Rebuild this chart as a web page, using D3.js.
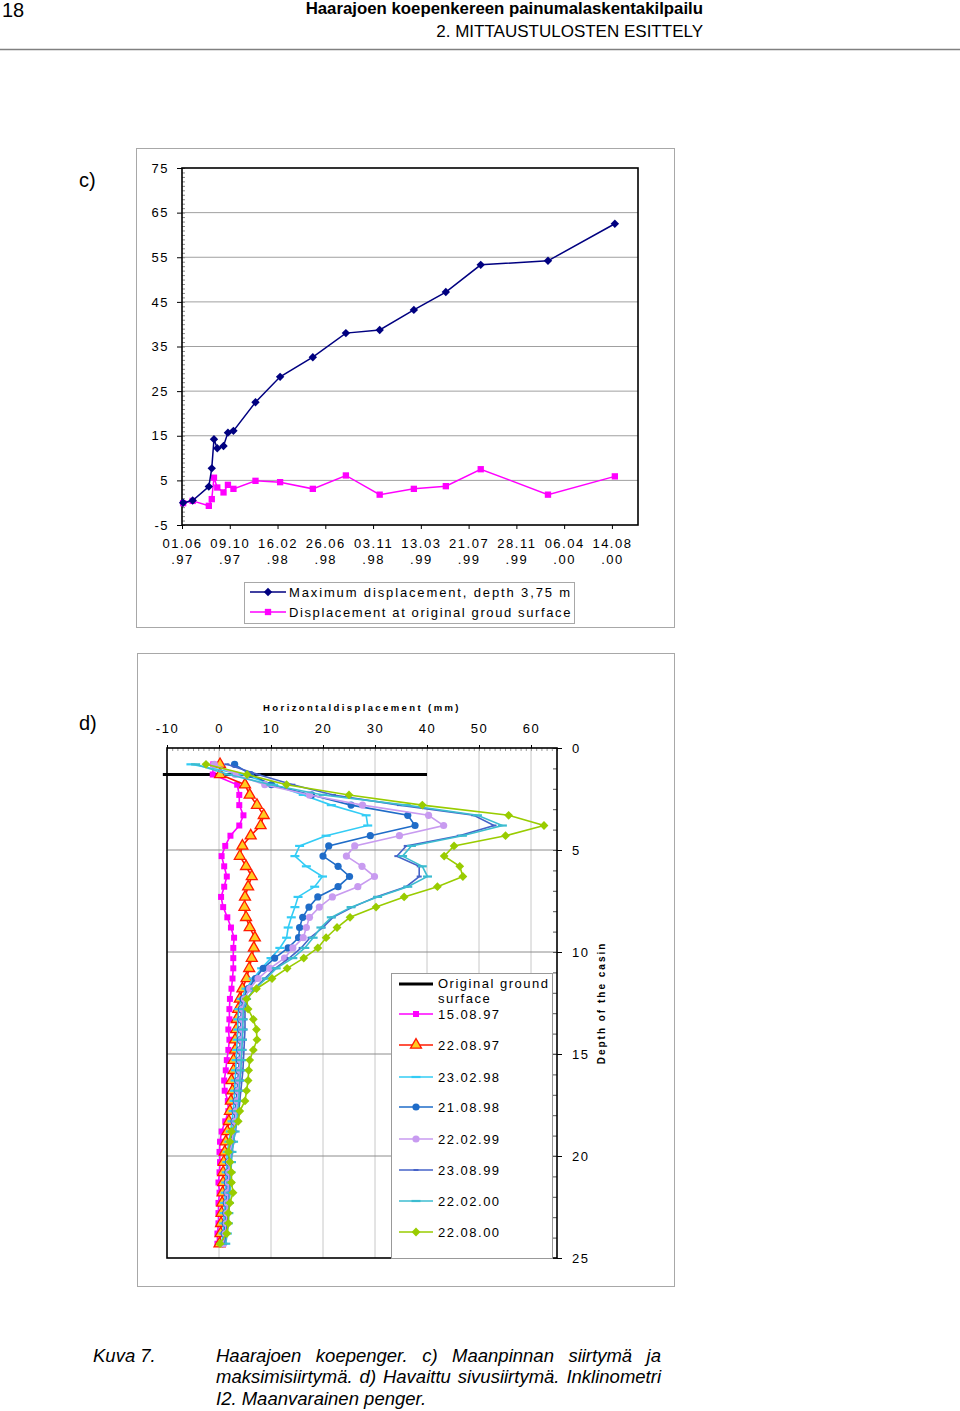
<!DOCTYPE html>
<html><head><meta charset="utf-8">
<script src="https://cdn.jsdelivr.net/npm/d3@7/dist/d3.min.js"></script>
<style>
body{margin:0;background:#fff;}
text{font-family:"Liberation Sans",Arial,sans-serif;fill:#000;}
</style></head><body>
<svg id="page" width="960" height="1411"></svg>
<script>
// ---------------- DATA: chart c ----------------
const cDates = ["04.06.97","30.06.97","13.08.97","21.08.97","27.08.97","05.09.97","22.09.97","04.10.97","19.10.97","18.12.97","23.02.98","23.05.98","21.08.98","21.11.98","22.02.99","20.05.99","23.08.99","22.02.00","22.08.00"];
const maxDisp  = [0.0, 0.5, 3.6, 7.7, 14.2, 12.2, 12.7, 15.7, 16.1, 22.5, 28.2, 32.6, 38.0, 38.7, 43.2, 47.2, 53.3, 54.2, 62.5];
const surfDisp = [-0.1, 0.4, -0.7, 0.8, 5.6, 3.4, 2.3, 4.0, 3.1, 4.9, 4.6, 3.1, 6.1, 1.8, 3.1, 3.7, 7.5, 1.8, 5.9];
const cTickDates = ["01.06.97","09.10.97","16.02.98","26.06.98","03.11.98","13.03.99","21.07.99","28.11.99","06.04.00","14.08.00"];
const cXDomain = ["01.06.97","24.10.00"];
const cYTicks = [-5,5,15,25,35,45,55,65,75];
const cLegend = ["Maximum displacement, depth 3,75 m","Displacement at original groud surface"];

// ---------------- DATA: chart d ----------------
const depths = [0.8,1.3,1.8,2.3,2.8,3.3,3.8,4.3,4.8,5.3,5.8,6.3,6.8,7.3,7.8,8.3,8.8,9.3,9.8,10.3,10.8,11.3,11.8,12.3,12.8,13.3,13.8,14.3,14.8,15.3,15.8,16.3,16.8,17.3,17.8,18.3,18.8,19.3,19.8,20.3,20.8,21.3,21.8,22.3,22.8,23.3,23.8,24.3];
const d150897 = [-1.1,-1.2,3.5,3.9,3.9,4.7,3.9,2.2,1.2,0.5,1.0,1.5,1.0,0.4,0.8,1.6,2.3,2.9,2.75,2.75,2.75,2.6,2.4,2.1,2.0,2.0,1.8,2.0,1.8,1.5,1.3,1.0,1.1,1.7,1.8,1.2,0.5,0.2,0.1,0.2,0.1,-0.1,0.1,-0.1,-0.1,-0.1,-0.3,-0.3];
const d220897 = [0.2,0.2,5.0,5.9,7.3,8.6,8.0,6.1,4.5,4.0,5.2,6.3,5.6,5.0,4.9,5.2,5.9,6.9,6.7,6.3,5.8,5.3,4.5,4.0,3.7,3.4,3.3,3.1,3.1,2.8,2.8,2.4,2.6,2.3,2.1,1.9,1.6,1.3,1.1,0.9,0.8,0.8,0.7,0.6,0.5,0.4,0.3,0.1];
const d230298 = [-5.4,4.6,10.5,16.2,21.6,28.3,28.6,20.6,15.5,14.6,16.8,19.9,18.4,15.2,14.6,13.9,13.3,13.0,11.7,10.0,8.2,6.6,5.2,4.3,3.8,3.6,3.6,3.5,3.4,3.3,3.2,3.1,3.0,2.9,2.7,2.5,2.2,1.9,1.6,1.5,1.4,1.3,1.2,1.1,1.0,0.9,0.8,0.5];
const d210898 = [3.0,6.1,10.1,17.8,25.4,36.3,37.7,29.1,21.1,20.0,22.9,25.1,22.9,19.0,17.3,16.1,15.5,15.3,13.3,10.7,8.5,7.0,5.6,4.6,4.3,4.2,4.2,4.1,4.0,3.9,3.8,3.6,3.5,3.3,3.1,2.9,2.6,2.3,2.0,1.8,1.7,1.6,1.5,1.4,1.3,1.2,1.0,0.7];
const d220299 = [-0.9,3.1,8.8,17.4,27.6,40.3,43.2,34.7,26.1,24.5,27.5,29.9,26.7,21.8,19.3,17.4,16.8,16.2,14.2,12.6,9.8,7.5,5.9,4.9,4.5,4.4,4.4,4.3,4.2,4.1,4.0,3.8,3.7,3.5,3.3,3.1,2.8,2.5,2.2,2.0,1.9,1.8,1.7,1.6,1.5,1.4,1.2,0.9];
const d230899 = [1.5,7.5,14.2,22.0,34.7,49.0,52.9,46.2,36.0,34.2,38.5,38.5,36.0,30.2,25.7,21.9,20.0,17.5,15.8,13.5,10.8,8.8,6.8,5.5,5.0,5.0,5.0,4.9,4.8,4.7,4.6,4.4,4.2,4.0,3.8,3.5,3.1,2.8,2.5,2.3,2.2,2.1,2.0,1.9,1.8,1.6,1.4,1.1];
const d220200 = [-4.5,1.8,10.0,20.0,36.0,49.7,54.5,46.8,37.0,35.3,39.1,40.1,36.3,30.5,25.4,21.6,19.6,18.1,16.5,14.2,11.0,9.1,6.9,5.3,4.7,4.6,4.6,4.5,4.4,4.3,4.2,4.0,3.9,3.8,3.6,3.4,3.1,2.8,2.5,2.4,2.3,2.2,2.1,2.0,1.9,1.8,1.6,1.3];
const d220800 = [-2.5,5.4,13.0,25.0,39.1,55.7,62.5,55.1,45.2,43.3,46.3,46.9,42.0,35.6,30.2,25.2,22.7,20.6,19.0,16.3,13.1,10.2,7.2,5.3,5.6,6.6,7.2,7.3,6.6,5.9,5.7,5.6,5.3,5.0,4.0,3.7,2.4,2.1,1.8,2.1,2.4,2.4,2.7,2.1,1.8,1.8,1.5,0.2];
const dSeriesNames = ["15.08.97","22.08.97","23.02.98","21.08.98","22.02.99","23.08.99","22.02.00","22.08.00"];
const dSeriesValues = [d150897,d220897,d230298,d210898,d220299,d230899,d220200,d220800];
const groundX = [-10.8, 40];
const groundDepth = [1.3, 1.3];
const groundName = ["Original ground", "surface"];
const dXTicks = [-10,0,10,20,30,40,50,60];
const dYTicks = [0,5,10,15,20,25];
const dXDomain = [-10,65];
const dYDomain = [0,25];

// ---------------- STYLES ----------------
const dStyles = [
  {color:"#FF00FF", marker:"square"},
  {color:"#FF1A00", marker:"triangle"},
  {color:"#33CCF5", marker:"dash"},
  {color:"#1F6CC8", marker:"circle"},
  {color:"#C89BF0", marker:"circle"},
  {color:"#4663C8", marker:"smalldash"},
  {color:"#3CBCD0", marker:"dash"},
  {color:"#99CC00", marker:"diamond"}
];

const svg = d3.select("#page");
const parse = d3.timeParse("%d.%m.%y");
const fmt = d => String(d); // plain hyphen minus
const diamondPath = r => `M0,${-r}L${r},0L0,${r}L${-r},0Z`;

function spacedText(g, x, y, txt, size, ls, anchor, weight){
  const t = g.append("text").attr("x",x).attr("y",y).text(txt)
    .style("font-size",size+"px").style("letter-spacing",ls+"px")
    .attr("text-anchor",anchor||"start");
  if(weight) t.style("font-weight",weight);
  return t;
}
// text fitted to a given width through letter spacing
function fittedText(g, x, y, txt, size, width){
  const t = g.append("text").attr("x",x).attr("y",y).text(txt).style("font-size",size+"px");
  const w = t.node().getComputedTextLength();
  t.style("letter-spacing",((width-w)/txt.length)+"px");
  return t;
}

// ---------------- HEADER ----------------
svg.append("text").attr("x",2).attr("y",17).text("18").style("font-size","20px");
svg.append("text").attr("x",703).attr("y",14).attr("text-anchor","end").text("Haarajoen koepenkereen painumalaskentakilpailu").style("font-size","16.8px").style("font-weight","bold");
svg.append("text").attr("x",703).attr("y",37).attr("text-anchor","end").text("2. MITTAUSTULOSTEN ESITTELY").style("font-size","17px");
svg.append("line").attr("x1",0).attr("x2",960).attr("y1",49.5).attr("y2",49.5).attr("stroke","#808080").attr("stroke-width",1.5);

svg.append("text").attr("x",79).attr("y",187).text("c)").style("font-size","20px");
svg.append("text").attr("x",79).attr("y",730).text("d)").style("font-size","20px");

// ---------------- CHART c ----------------
(function(){
  const L=182,R=638,T=168,B=525;
  const g = svg.append("g");
  g.append("rect").attr("x",136.5).attr("y",148.5).attr("width",538).attr("height",479).attr("fill","none").attr("stroke","#a8a8a8");
  const x = d3.scaleTime().domain(cXDomain.map(parse)).range([L,R]);
  const y = d3.scaleLinear().domain([-5,75]).range([B,T]);
  g.selectAll(".gl").data(cYTicks.filter(v=>v>-5&&v<75)).enter().append("line")
    .attr("x1",L).attr("x2",R).attr("y1",d=>y(d)).attr("y2",d=>y(d)).attr("stroke","#a0a0a0").attr("stroke-width",1);
  const minor = g.append("g").attr("transform",`translate(${L},0)`).call(d3.axisRight(y).tickValues(d3.range(-5,76,1)).tickSize(3).tickFormat(""));
  minor.select(".domain").remove();
  minor.selectAll("line").attr("stroke","#888");
  const ya = g.append("g").attr("transform",`translate(${L},0)`).call(d3.axisLeft(y).tickValues(cYTicks).tickSize(5).tickPadding(8).tickFormat(fmt));
  ya.selectAll("text").style("font-size","13px").style("letter-spacing","1.5px").style("font-family","Liberation Sans, Arial");
  ya.select(".domain").remove();
  const xa = g.append("g").attr("transform",`translate(0,${B})`).call(d3.axisBottom(x).tickValues(cTickDates.map(parse)).tickSize(4).tickFormat(""));
  xa.select(".domain").remove();
  xa.selectAll(".tick").each(function(d,i){
    const s = cTickDates[i];
    const t = d3.select(this);
    t.append("text").attr("y",23).attr("text-anchor","middle").text(s.slice(0,5)).style("font-size","13px").style("letter-spacing","1.5px").attr("fill","#000");
    t.append("text").attr("y",39).attr("text-anchor","middle").text(s.slice(5)).style("font-size","13px").style("letter-spacing","1.5px").attr("fill","#000");
  });
  g.append("rect").attr("x",L).attr("y",T).attr("width",R-L).attr("height",B-T).attr("fill","none").attr("stroke","#000").attr("stroke-width",1.6);
  const pts1 = cDates.map((d,i)=>[x(parse(d)),y(maxDisp[i])]);
  const pts2 = cDates.map((d,i)=>[x(parse(d)),y(surfDisp[i])]);
  const line = d3.line();
  g.append("path").attr("d",line(pts2)).attr("fill","none").attr("stroke","#FF00FF").attr("stroke-width",1.5);
  g.selectAll(".sq").data(pts2).enter().append("path").attr("d",d3.symbol(d3.symbolSquare,40)()).attr("transform",d=>`translate(${d[0]},${d[1]})`).attr("fill","#FF00FF");
  g.append("path").attr("d",line(pts1)).attr("fill","none").attr("stroke","#000080").attr("stroke-width",1.5);
  g.selectAll(".dm").data(pts1).enter().append("path").attr("d",diamondPath(4.2)).attr("transform",d=>`translate(${d[0]},${d[1]})`).attr("fill","#000080");
  // legend
  g.append("rect").attr("x",244.5).attr("y",582.5).attr("width",330).attr("height",41).attr("fill","#fff").attr("stroke","#a8a8a8");
  [592,612].forEach((yy,i)=>{
    const col = i===0?"#000080":"#FF00FF";
    g.append("line").attr("x1",250).attr("x2",286).attr("y1",yy).attr("y2",yy).attr("stroke",col).attr("stroke-width",1.5);
    if(i===0) g.append("path").attr("d",diamondPath(4.2)).attr("transform",`translate(268,${yy})`).attr("fill",col);
    else g.append("path").attr("d",d3.symbol(d3.symbolSquare,40)()).attr("transform",`translate(268,${yy})`).attr("fill",col);
    fittedText(g,289,yy+4.5,cLegend[i],13,283);
  });
})();

// ---------------- CHART d ----------------
(function(){
  const L=167,R=557,T=748,B=1258;
  const g = svg.append("g");
  g.append("rect").attr("x",137.5).attr("y",653.5).attr("width",537).attr("height",633).attr("fill","none").attr("stroke","#a8a8a8");
  const x = d3.scaleLinear().domain(dXDomain).range([L,R]);
  const y = d3.scaleLinear().domain(dYDomain).range([T,B]);
  g.selectAll(".vg").data(dXTicks.filter(v=>v>-10)).enter().append("line")
    .attr("x1",d=>x(d)).attr("x2",d=>x(d)).attr("y1",T).attr("y2",B).attr("stroke","#c8c8c8");
  g.selectAll(".hg").data(dYTicks.filter(v=>v>0&&v<25)).enter().append("line")
    .attr("x1",L).attr("x2",R).attr("y1",d=>y(d)).attr("y2",d=>y(d)).attr("stroke","#8c8c8c");
  const tm = g.append("g").attr("transform",`translate(0,${T})`).call(d3.axisBottom(x).tickValues(d3.range(-10,66,1)).tickSize(3).tickFormat(""));
  tm.select(".domain").remove(); tm.selectAll("line").attr("stroke","#999");
  const ta = g.append("g").attr("transform",`translate(0,${T})`).call(d3.axisTop(x).tickValues(dXTicks).tickSize(3).tickPadding(12).tickFormat(fmt));
  ta.select(".domain").remove();
  ta.selectAll("text").style("font-size","13px").style("letter-spacing","1.5px").style("font-family","Liberation Sans, Arial");
  const rm = g.append("g").attr("transform",`translate(${R},0)`).call(d3.axisLeft(y).tickValues(d3.range(0,26,1)).tickSize(4).tickFormat(""));
  rm.select(".domain").remove(); rm.selectAll("line").attr("stroke","#555");
  const ra = g.append("g").attr("transform",`translate(${R},0)`).call(d3.axisRight(y).tickValues(dYTicks).tickSize(5).tickPadding(10).tickFormat(fmt));
  ra.select(".domain").remove();
  ra.selectAll("text").style("font-size","13px").style("letter-spacing","1.5px").style("font-family","Liberation Sans, Arial");
  g.append("rect").attr("x",L).attr("y",T).attr("width",R-L).attr("height",B-T).attr("fill","none").attr("stroke","#000").attr("stroke-width",1.6);
  spacedText(g,(L+R)/2,711,"Horizontaldisplacement (mm)",9.5,2.4,"middle","bold");
  g.append("text").attr("transform",`translate(605,${(T+B)/2}) rotate(-90)`).attr("text-anchor","middle").text("Depth of the casin")
    .style("font-size","10px").style("font-weight","bold").style("letter-spacing","2px");
  const line = d3.line();
  g.append("path").attr("d",line(groundX.map((v,i)=>[x(v),y(groundDepth[i])]))).attr("stroke","#000").attr("stroke-width",3).attr("fill","none");

  function marker(sel, type, color){
    if(type==="square") sel.append("path").attr("d",d3.symbol(d3.symbolSquare,36)()).attr("fill",color);
    else if(type==="triangle") sel.append("path").attr("d",d3.symbol(d3.symbolTriangle,52)()).attr("fill","#FFCC22").attr("stroke","#FF1A00").attr("stroke-width",1.3);
    else if(type==="dash") sel.append("path").attr("d","M-4.5,0H4.5").attr("stroke",color).attr("stroke-width",2.2);
    else if(type==="smalldash") sel.append("path").attr("d","M-2.5,0H2.5").attr("stroke",color).attr("stroke-width",2);
    else if(type==="circle") sel.append("circle").attr("r",3.6).attr("fill",color);
    else if(type==="diamond") sel.append("path").attr("d",diamondPath(4.4)).attr("fill",color);
  }
  dSeriesValues.forEach((vals,si)=>{
    const st = dStyles[si];
    const pts = vals.map((v,i)=>[x(v),y(depths[i])]);
    g.append("path").attr("d",line(pts)).attr("fill","none").attr("stroke",st.color).attr("stroke-width",1.6);
    pts.forEach(p=>{
      const m = g.append("g").attr("transform",`translate(${p[0]},${p[1]})`);
      marker(m, st.marker, st.color);
    });
  });
  g.append("rect").attr("x",391.5).attr("y",973.5).attr("width",161).attr("height",285).attr("fill","#fff").attr("stroke","#999");
  g.append("line").attr("x1",399).attr("x2",433).attr("y1",984).attr("y2",984).attr("stroke","#000").attr("stroke-width",3);
  spacedText(g,438,988,groundName[0],13,1.5);
  spacedText(g,438,1003,groundName[1],13,1.5);
  const ly = [1014,1045,1077,1107,1139,1170,1201,1232];
  dSeriesNames.forEach((nm,i)=>{
    const st = dStyles[i];
    g.append("line").attr("x1",399).attr("x2",433).attr("y1",ly[i]).attr("y2",ly[i]).attr("stroke",st.color).attr("stroke-width",1.6);
    const m = g.append("g").attr("transform",`translate(416,${ly[i]})`);
    marker(m, st.marker, st.color);
    spacedText(g,438,ly[i]+4.5,nm,13,1.5);
  });
})();

// ---------------- CAPTION ----------------
(function(){
  const fs = 18.5;
  svg.append("text").attr("x",93).attr("y",1362).text("Kuva 7.").style("font-size",fs+"px").style("font-style","italic");
  const lines = ["Haarajoen koepenger. c) Maanpinnan siirtymä ja","maksimisiirtymä. d) Havaittu sivusiirtymä. Inklinometri","I2. Maanvarainen penger."];
  const ys = [1362,1383,1405];
  lines.forEach((l,i)=>{
    const t = svg.append("text").attr("x",216).attr("y",ys[i]).text(l).style("font-size",fs+"px").style("font-style","italic");
    if(i<2){
      const w = t.node().getComputedTextLength();
      const n = (l.match(/ /g)||[]).length;
      t.style("word-spacing",((661-216-w)/n)+"px");
    }
  });
})();
</script>
</body></html>
